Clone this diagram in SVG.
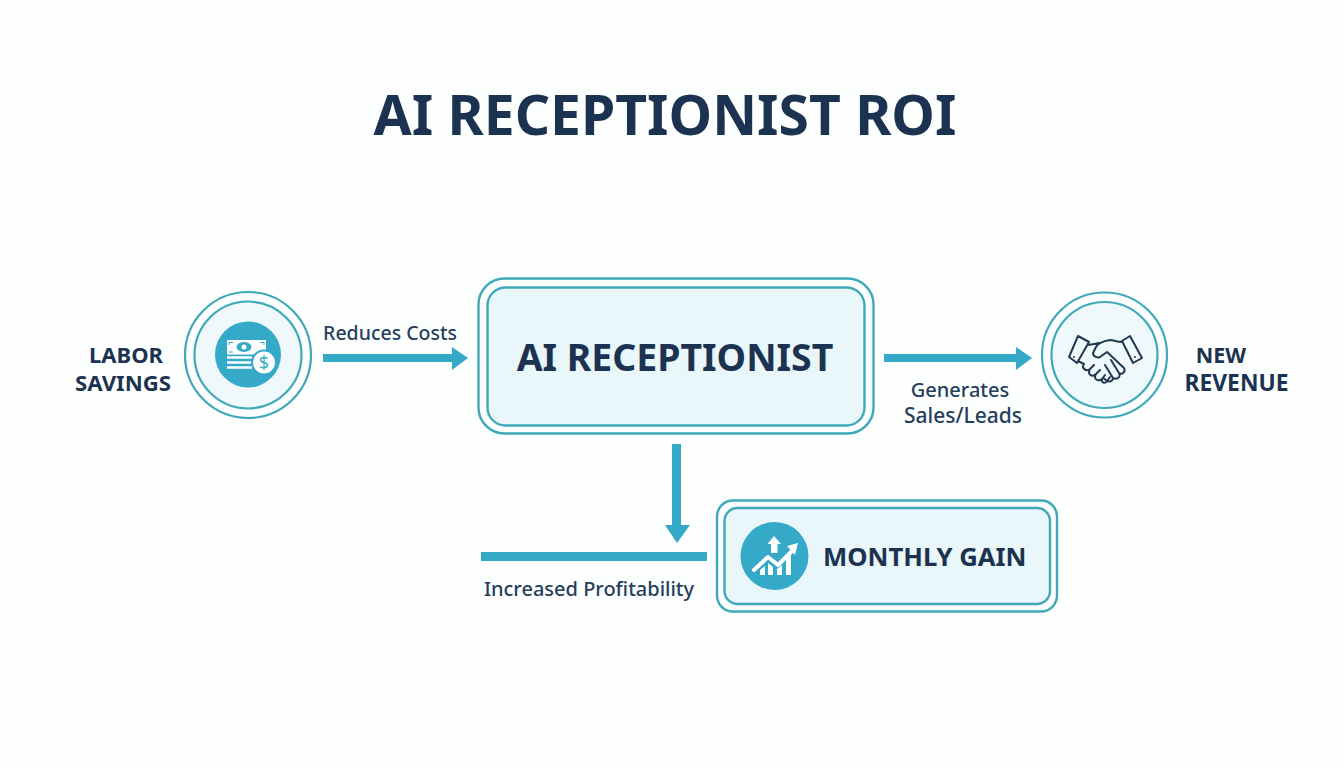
<svg xmlns="http://www.w3.org/2000/svg" width="1344" height="768" viewBox="0 0 1344 768">
<style>
text{font-family:"Noto Sans","Open Sans","Liberation Sans",sans-serif;fill:#1b3350}
.b{font-weight:700}
.t{text-anchor:middle}
.l{font-size:20px;font-weight:500;fill:#25405c}
.o{fill:none;stroke:#3fa9b9;stroke-width:2.2}
.f{fill:#e9f6fa;stroke:#3fa9b9;stroke-width:2.400}
.a{fill:#35aac8}
.w{fill:none;stroke:#fff;stroke-linecap:round;stroke-linejoin:round}
.h{fill:none;stroke:#22384f;stroke-width:2;stroke-linejoin:round;stroke-linecap:round}
</style>
<rect width="1344" height="768" fill="#fdfefe"/>
<text id="title" class="b t" x="665" y="135" font-size="55.200">AI RECEPTIONIST ROI</text>
<g id="connectors">
<polygon class="a" points="323,354 452,354 452,347 468,358 452,370 452,362 323,362"/>
<polygon class="a" points="884,354 1016,354 1016,347 1032,358 1016,370 1016,362 884,362"/>
<polygon class="a" points="672,444 681,444 681,525 690,525 677,543 665,525 672,525"/>
<rect class="a" x="481" y="552" width="226" height="9"/>
</g>
<g id="labor-savings">
<circle class="o" cx="248" cy="355" r="63"/>
<circle cx="248" cy="355" r="53.500" fill="#eff8fa" stroke="#3fa9b9" stroke-width="2.200"/>
<circle class="a" cx="248" cy="354.500" r="33"/>
<rect x="227" y="340" width="39" height="14.500" fill="#fff"/>
<path d="M229 342.500H233M229 342.500V345M264 342.500H260M264 342.500V345M229 352H233M264 352H260" stroke="#35aac8" stroke-width="1" fill="none"/>
<ellipse cx="244" cy="347" rx="7.500" ry="5" fill="#35aac8"/>
<circle cx="244" cy="347" r="2.500" fill="#fff"/>
<path d="M227 357.500H252M227 362.500H252M227 367.500H252" stroke="#fff" stroke-width="2.600" fill="none"/>
<circle cx="264" cy="362.500" r="12" fill="#fff" stroke="#35aac8" stroke-width="2"/>
<text x="264" y="369" font-size="18" text-anchor="middle" style="fill:#35aac8">$</text>
<text class="b t" x="126" y="363" font-size="22">LABOR</text>
<text class="b t" x="123" y="391" font-size="22.200">SAVINGS</text>
</g>
<text class="l t" x="390" y="340" style="font-size:19.500px">Reduces Costs</text>
<g id="ai-receptionist">
<rect class="f" style="fill:none" x="478.500" y="278.500" width="395" height="155" rx="26"/>
<rect class="f" x="487.500" y="287.500" width="377" height="138" rx="18"/>
<text class="b t" x="675" y="371" font-size="37.400">AI RECEPTIONIST</text>
</g>
<text class="l t" x="960" y="397">Generates</text>
<text class="l t" x="963" y="423" style="font-size:21px">Sales/Leads</text>
<g id="new-revenue">
<circle class="o" cx="1104.500" cy="355" r="62.500"/>
<circle cx="1104.500" cy="355" r="53" fill="#eff8fa" stroke="#3fa9b9" stroke-width="2.200"/>
<path class="h" d="M1078 336L1089 342L1077 363L1069 357ZM1130 336L1122 341L1133 363L1142 358ZM1122 342C1117 342 1114 340 1110 340C1104 341 1098 343 1096 347L1093 353C1093 357 1098 358 1100 357L1107 352L1124 368C1126 372 1122 375 1119 373M1119 373C1121 377 1117 380 1113 378M1113 378C1113 381 1109 383 1106 380L1103 378M1089 345C1092 344 1096 344 1099 343M1084 364L1078 361M1084 364C1081 368 1086 372 1090 369L1094 365M1090 369C1087 374 1092 378 1096 374L1100 370M1096 374C1093 379 1098 382 1102 379L1105 375M1102 379C1101 383 1105 384 1107 381L1110 377M1111 360L1119 373M1105 365L1113 378"/>
<circle cx="1074" cy="357" r="1" fill="#22384f"/>
<circle cx="1135" cy="357" r="1" fill="#22384f"/>
<text class="b t" x="1221" y="363" font-size="21.500">NEW</text>
<text class="b t" x="1236.500" y="391" font-size="22.800">REVENUE</text>
</g>
<text class="l t" x="589" y="596">Increased Profitability</text>
<g id="monthly-gain">
<rect class="f" style="fill:none" x="717" y="500.500" width="340" height="111" rx="16"/>
<rect class="f" x="724.500" y="508" width="325.500" height="96" rx="13"/>
<circle class="a" cx="774.500" cy="556" r="34"/>
<path class="w" stroke-width="4" d="M754 570L768 557L778 565L792 551"/>
<polygon fill="#fff" points="787,546 798,543 795,555"/>
<polygon fill="#fff" points="774,536 781,544 777.500,544 777.500,553 771,553 771,544 767.500,544"/>
<path fill="#fff" d="M760 575V570L765 566V575ZM768 575V563L773 567V575ZM777 575V569L782 565V575ZM786 575V559L791 555V575Z"/>
<text class="b" x="823" y="566" font-size="25.700">MONTHLY GAIN</text>
</g>
</svg>
